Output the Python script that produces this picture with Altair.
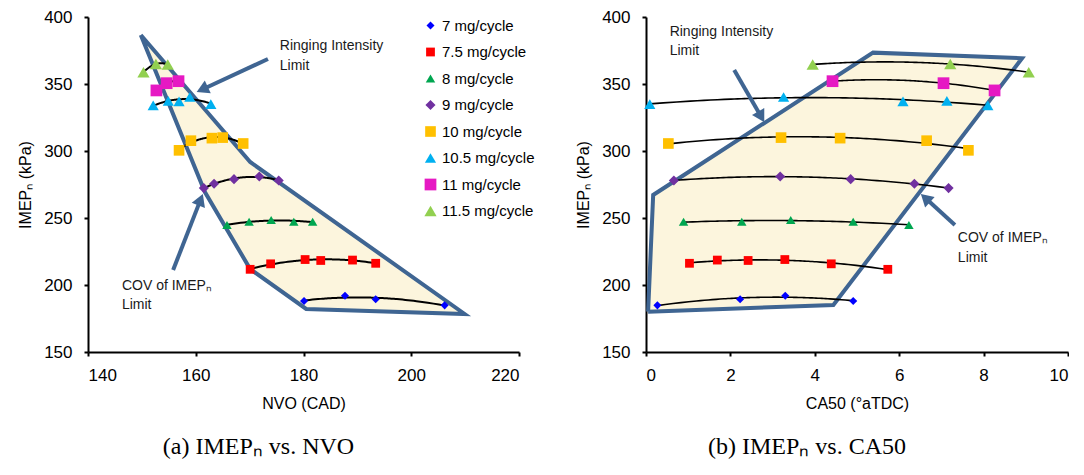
import math
import altair as alt
import pandas as pd

# ---------------- data ----------------
FUELS = ["7 mg/cycle", "7.5 mg/cycle", "8 mg/cycle", "9 mg/cycle",
         "10 mg/cycle", "10.5 mg/cycle", "11 mg/cycle", "11.5 mg/cycle"]

NVO = [
    [180.1, 187.7, 193.4, 206.2],
    [170.1, 173.9, 180.3, 183.2, 189.1, 193.4],
    [165.8, 169.9, 174.0, 178.2, 181.7],
    [161.5, 163.4, 167.1, 171.8, 175.4],
    [156.9, 159.1, 163.0, 165.0, 168.8],
    [152.1, 154.9, 156.9, 158.9, 162.8],
    [152.7, 154.6, 156.8],
    [150.3, 152.6, 154.8],
]
CA50 = [
    [4.91, 3.30, 2.23, 0.27],
    [5.73, 4.39, 3.29, 2.42, 1.69, 1.03],
    [6.23, 4.91, 3.43, 2.27, 0.89],
    [7.17, 6.36, 4.85, 3.18, 0.66],
    [7.64, 6.65, 4.60, 3.20, 0.53],
    [8.10, 7.13, 6.09, 3.26, 0.09],
    [8.26, 7.05, 4.42],
    [9.07, 7.21, 3.95],
]
IMEP = [
    [188.0, 192.0, 189.3, 184.8],
    [211.7, 215.8, 219.0, 218.3, 218.6, 216.2],
    [244.8, 247.2, 248.5, 247.2, 247.2],
    [272.3, 275.6, 279.0, 281.0, 278.0],
    [300.5, 307.7, 309.6, 310.0, 305.6],
    [334.0, 337.4, 337.0, 340.3, 335.0],
    [345.2, 350.6, 352.1],
    [358.8, 364.9, 364.6],
]

# operating-region outlines (closed)
POLY_A_NVO = [149.8, 161.7, 170.1, 180.5, 209.9, 170.1, 149.8]
POLY_A_IMEP = [386.6, 269.4, 211.9, 182.1, 178.4, 291.8, 386.6]
POLY_B_CA50 = [0.05, 0.17, 5.38, 8.91, 4.44, 0.05]
POLY_B_IMEP = [180.1, 267.2, 373.4, 369.2, 185.1, 180.1]

# annotation labels
TXT_A = ["Ringing Intensity", "Limit", "COV of IMEPₙ", "Limit"]
TXT_A_X = [175.6, 175.6, 146.3, 146.3]
TXT_A_Y = [378.4, 363.4, 199.3, 185.1]
TXT_B = ["Ringing Intensity", "Limit", "COV of IMEPₙ", "Limit"]
TXT_B_X = [0.56, 0.56, 7.39, 7.39]
TXT_B_Y = [388.8, 374.6, 235.1, 220.1]

# arrows: tail -> head
ARR_A_X = [173.4, 155.8]
ARR_A_Y = [368.7, 211.2]
ARR_A_X2 = [161.2, 160.9]
ARR_A_Y2 = [345.9, 263.7]
ARR_A_ANG = [245.1, 21.5]
ARR_B_X = [2.09, 7.32]
ARR_B_Y = [360.5, 244.8]
ARR_B_X2 = [2.73, 6.62]
ARR_B_Y2 = [325.5, 264.9]
ARR_B_ANG = [150.0, 312.4]

Y_TICKS = [150, 200, 250, 300, 350, 400]
XA_TICKS = [140, 160, 180, 200, 220]
XB_TICKS = [0, 2, 4, 6, 8, 10]

# ---------------- styles ----------------
COLORS = ["#0000FF", "#FF0000", "#00A650", "#7030A0",
          "#FFC000", "#00B0F0", "#E619C3", "#92D050"]
SHAPES = ["diamond", "square", "triangle-up", "diamond",
          "square", "triangle-up", "square", "triangle-up"]
SIZES = [65, 150, 115, 65, 150, 115, 150, 115]
FONT = "Liberation Sans"
EDGE = "#3F6592"
FILL = "#FCF5DD"

rows = []
for f, ns, cs, ims in zip(FUELS, NVO, CA50, IMEP):
    for n, c, v in zip(ns, cs, ims):
        rows.append({"fuel": f, "nvo": n, "ca50": c, "imep": v})
df = pd.DataFrame(rows)

poly_a = pd.DataFrame({"x": POLY_A_NVO, "y": POLY_A_IMEP, "i": range(len(POLY_A_NVO))})
poly_b = pd.DataFrame({"x": POLY_B_CA50, "y": POLY_B_IMEP, "i": range(len(POLY_B_CA50))})
txt_a = pd.DataFrame({"x": TXT_A_X, "y": TXT_A_Y, "t": TXT_A})
txt_b = pd.DataFrame({"x": TXT_B_X, "y": TXT_B_Y, "t": TXT_B})
arr_a = pd.DataFrame({"x": ARR_A_X, "y": ARR_A_Y, "x2": ARR_A_X2, "y2": ARR_A_Y2, "a": ARR_A_ANG})
arr_b = pd.DataFrame({"x": ARR_B_X, "y": ARR_B_Y, "x2": ARR_B_X2, "y2": ARR_B_Y2, "a": ARR_B_ANG})


def panel(xf, xtitle, xdom, xticks, poly, txt, arr, caption, cap_dx, width, show_legend, lw):
    xs = alt.Scale(domain=xdom, nice=False, zero=False)
    ys = alt.Scale(domain=[150, 400], nice=False, zero=False)
    xax = alt.Axis(values=xticks, title=xtitle)
    yax = alt.Axis(values=Y_TICKS, title="IMEPₙ (kPa)")

    region = alt.Chart(poly).mark_line(fill=FILL, stroke=EDGE, strokeWidth=4,
                                        strokeJoin="miter").encode(
        x=alt.X("x:Q", scale=xs, axis=xax),
        y=alt.Y("y:Q", scale=ys, axis=yax),
        order="i:Q",
    )
    fits = alt.Chart(df).transform_regression(
        xf, "imep", groupby=["fuel"], method="poly", order=2
    ).mark_line(color="black", strokeWidth=lw).encode(
        x=alt.X(f"{xf}:Q", scale=xs, axis=xax),
        y=alt.Y("imep:Q", scale=ys, axis=yax),
        detail="fuel:N",
    )
    if show_legend:
        leg = alt.Legend(title=None, orient="none", legendX=335, legendY=1,
                         symbolSize=75, labelFont=FONT, labelFontSize=15,
                         labelColor="black", rowPadding=10.5, padding=0,
                         symbolStrokeWidth=0, labelOffset=4)
    else:
        leg = None
    pts = alt.Chart(df).mark_point(filled=True, opacity=1).encode(
        x=alt.X(f"{xf}:Q", scale=xs, axis=xax),
        y=alt.Y("imep:Q", scale=ys, axis=yax),
        color=alt.Color("fuel:N", scale=alt.Scale(domain=FUELS, range=COLORS), legend=leg),
        shape=alt.Shape("fuel:N", scale=alt.Scale(domain=FUELS, range=SHAPES), legend=leg),
        size=alt.Size("fuel:N", scale=alt.Scale(domain=FUELS, range=SIZES), legend=None),
    )
    shafts = alt.Chart(arr).mark_rule(color=EDGE, strokeWidth=4).encode(
        x=alt.X("x:Q", scale=xs), y=alt.Y("y:Q", scale=ys), x2="x2:Q", y2="y2:Q"
    )
    heads = alt.Chart(arr).mark_point(shape="triangle-up", filled=True, color=EDGE,
                                      opacity=1, size=200).encode(
        x=alt.X("x2:Q", scale=xs), y=alt.Y("y2:Q", scale=ys),
        angle=alt.Angle("a:Q", scale=None),
    )
    labels = alt.Chart(txt).mark_text(align="left", baseline="middle", font=FONT,
                                      fontSize=14, color="#1a1a1a").encode(
        x=alt.X("x:Q", scale=xs), y=alt.Y("y:Q", scale=ys), text="t:N"
    )
    return alt.layer(region, fits, pts, shafts, heads, labels).properties(
        width=width, height=335,
        title=alt.TitleParams(caption, orient="bottom", anchor="middle", frame="group",
                              font="Liberation Serif", fontSize=24, fontWeight="normal",
                              color="black", offset=24, dx=cap_dx),
    )


left = panel("nvo", "NVO (CAD)", [140, 220], XA_TICKS, poly_a, txt_a, arr_a,
             "(a) IMEPₙ vs. NVO", -45, 431, True, 2)
right = panel("ca50", "CA50 (°aTDC)", [0, 10], XB_TICKS, poly_b, txt_b, arr_b,
              "(b) IMEPₙ vs. CA50", -50, 422, False, 1.6)

chart = alt.hconcat(left, right, spacing=40).resolve_scale(
    color="independent", shape="independent", size="independent"
).properties(
    padding={"left": 9, "top": 0, "right": 0, "bottom": 0}
).configure_view(stroke=None).configure_axis(
    grid=False, domainColor="black", domainWidth=2, tickColor="black", tickWidth=2,
    tickSize=4, labelFont=FONT, labelFontSize=17, labelColor="black",
    labelPadding=12, titleFont=FONT, titleFontSize=16, titleFontWeight="normal",
    titleColor="black", titlePadding=10,
).configure_axisX(labelPadding=11, titlePadding=12)

chart.save("out.html", embed_options={"renderer": "svg", "actions": False})
